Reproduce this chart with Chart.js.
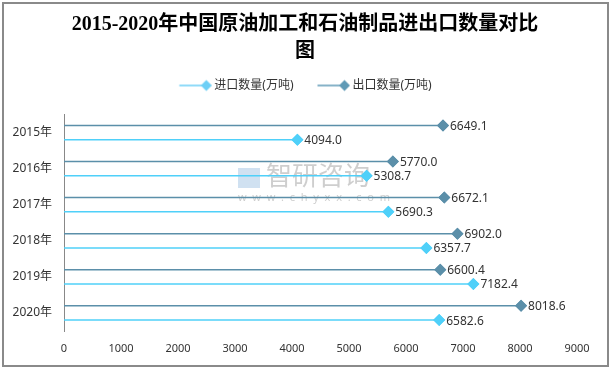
<!DOCTYPE html>
<html>
<head>
<meta charset="utf-8">
<script src="https://cdn.jsdelivr.net/npm/chart.js@4.4.1/dist/chart.umd.min.js"></script>
<style>
    html, body { margin: 0; padding: 0; background: #fff; }
    #wrap { position: relative; width: 612px; height: 371px; }
    #frame {
        position: absolute; left: 2px; top: 2px; width: 603px; height: 361px;
        border: 2px solid #8a8a8a; pointer-events: none;
    }
</style>
</head>
<body>
<div id="wrap">
    <canvas id="mainChart" width="612" height="371"></canvas>
    <div id="frame"></div>
</div>
<script>
// Данные графика
const years = ['2015年', '2016年', '2017年', '2018年', '2019年', '2020年'];
const exportValues = [6649.1, 5770.0, 6672.1, 6902.0, 6600.4, 8018.6];
const importValues = [4094.0, 5308.7, 5690.3, 6357.7, 7182.4, 6582.6];
const xTicks = [0, 1000, 2000, 3000, 4000, 5000, 6000, 7000, 8000, 9000];

const importColor = '#4fd0f9';
const exportColor = '#5b8fa9';
const baseFont = "'Noto Sans', 'Noto Sans CJK SC', sans-serif";

// значок легенды: пустое место слева, линия и ромб справа
function makeIcon(color) {
    const c = document.createElement('canvas');
    c.width = 46;
    c.height = 14;
    const g = c.getContext('2d');
    g.strokeStyle = color;
    g.lineWidth = 1.5;
    g.beginPath();
    g.moveTo(13.5, 7);
    g.lineTo(40, 7);
    g.stroke();
    g.fillStyle = color;
    g.beginPath();
    g.moveTo(40.5, 1.5);
    g.lineTo(46, 7);
    g.lineTo(40.5, 12.5);
    g.lineTo(35, 7);
    g.closePath();
    g.fill();
    return c;
}
const icons = { '进口数量(万吨)': makeIcon('#6dcff6'), '出口数量(万吨)': makeIcon('#5f9ab6') };

// положение заголовка и легенды, как в оригинале
const headerPlace = {
    id: 'headerPlace',
    beforeUpdate(chart) {
        const lg = chart.legend;
        if (lg && !lg._patched) {
            const fit = lg.fit;
            lg.fit = function() {
                fit.call(this);
                this.height += 13;
            };
            lg._patched = true;
        }
    },
    afterLayout(chart) {
        const place = (b, center) => {
            if (!b) return;
            const d = (b.left + b.right) / 2 - center;
            b.left -= d;
            b.right -= d;
        };
        place(chart.titleBlock, 305);
        place(chart.legend, 300.5);
    }
};

// водяной знак
const watermark = {
    id: 'watermark',
    beforeDatasetsDraw(chart) {
        const ctx = chart.ctx;
        ctx.save();
        ctx.fillStyle = 'rgba(190, 190, 190, 0.75)';
        ctx.textBaseline = 'middle';
        ctx.font = "26px " + baseFont;
        ctx.fillText('智研咨询', 266, 178);
        ctx.font = "11px " + baseFont;
        ctx.fillText('w  w  w  .  c  h  y  x  x  .  c  o  m', 238, 198);
        ctx.fillStyle = 'rgba(170, 200, 230, 0.55)';
        ctx.fillRect(238, 168, 22, 20);
        ctx.restore();
    }
};

// ромбы на концах и подписи значений
const endMarks = {
    id: 'endMarks',
    afterDatasetsDraw(chart) {
        const ctx = chart.ctx;
        chart.data.datasets.forEach((ds, i) => {
            const meta = chart.getDatasetMeta(i);
            meta.data.forEach((bar, j) => {
                ctx.save();
                ctx.fillStyle = ds.backgroundColor;
                Chart.helpers.drawPoint(ctx, { pointStyle: 'rectRot', radius: 6, rotation: 0, borderWidth: 0 }, bar.x, bar.y);
                ctx.fill();
                ctx.fillStyle = '#333';
                ctx.font = "12px " + baseFont;
                ctx.textBaseline = 'middle';
                ctx.fillText(ds.data[j].toFixed(1), bar.x + 7, bar.y + 1);
                ctx.restore();
            });
        });
    }
};

new Chart(document.getElementById('mainChart'), {
    type: 'bar',
    data: {
        labels: years,
        datasets: [{
            label: '出口数量(万吨)',
            data: exportValues,
            backgroundColor: exportColor,
            borderWidth: 0,
            categoryPercentage: 0.79,
            barPercentage: 1,
            maxBarThickness: 1.5
        }, {
            label: '进口数量(万吨)',
            data: importValues,
            backgroundColor: importColor,
            borderWidth: 0,
            categoryPercentage: 0.79,
            barPercentage: 1,
            maxBarThickness: 1.5
        }]
    },
    options: {
        indexAxis: 'y',
        responsive: false,
        animation: false,
        layout: { padding: { left: 0, right: 35, top: 0, bottom: 0 } },
        plugins: {
            title: {
                display: true,
                text: ['2015-2020年中国原油加工和石油制品进出口数量对比', '图'],
                color: '#000',
                font: { family: "'Liberation Serif', 'Noto Sans CJK SC', serif", size: 20, weight: 'bold', lineHeight: 27 / 20 },
                padding: { top: 11.5, bottom: 0 }
            },
            legend: {
                reverse: true,
                labels: {
                    usePointStyle: true,
                    pointStyleWidth: 39,
                    boxHeight: 12,
                    padding: 14,
                    color: '#333',
                    font: { family: baseFont, size: 12 },
                    generateLabels(chart) {
                        const items = Chart.defaults.plugins.legend.labels.generateLabels(chart);
                        items.forEach(it => { it.pointStyle = icons[it.text]; });
                        return items;
                    }
                }
            },
            tooltip: { enabled: false }
        },
        scales: {
            x: {
                min: 0,
                max: 9000,
                afterBuildTicks(scale) { scale.ticks = xTicks.map(v => ({ value: v })); },
                grid: { display: false, drawTicks: false },
                border: { display: false },
                ticks: {
                    color: '#333',
                    padding: 11,
                    font: { family: baseFont, size: 11 },
                    callback: v => String(v)
                },
                afterFit(scale) { scale.height = 40; }
            },
            y: {
                grid: { display: false, drawTicks: false },
                border: { display: true, color: '#888', width: 1 },
                ticks: { color: '#333', padding: 12, font: { family: baseFont, size: 12 } },
                afterFit(scale) { scale.width = 64; }
            }
        }
    },
    plugins: [headerPlace, watermark, endMarks]
});
</script>
</body>
</html>
